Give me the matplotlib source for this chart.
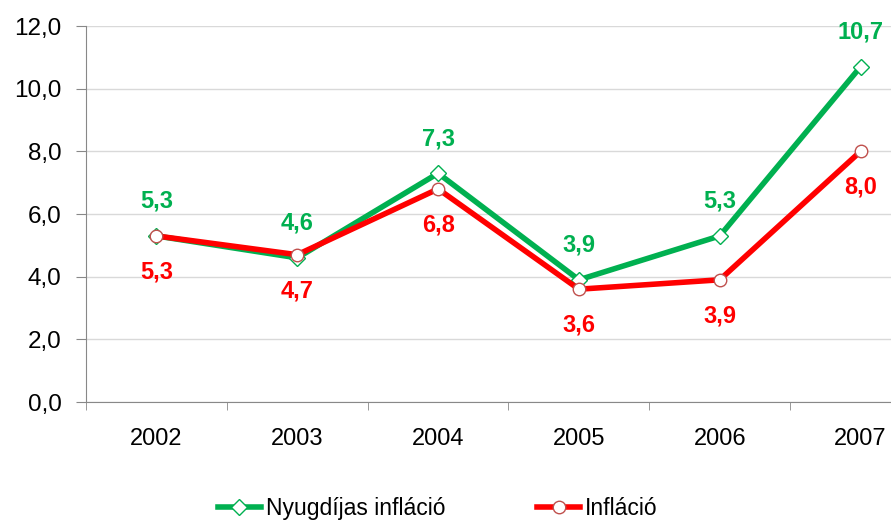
import matplotlib.pyplot as plt
import numpy as np

years = ["2002", "2003", "2004", "2005", "2006", "2007"]
nyugdijas = [5.3, 4.6, 7.3, 3.9, 5.3, 10.7]
inflacio = [5.3, 4.7, 6.8, 3.6, 3.9, 8.0]

green = "#00B050"
red = "#FF0000"

plt.rcParams["font.family"] = ["Liberation Sans", "DejaVu Sans"]

fig = plt.figure(figsize=(8.91, 5.22), dpi=100)
ax = fig.add_axes([86 / 891, 1 - 402 / 522, 845 / 891, 376 / 522])

x = np.arange(len(years))
ax.plot(x, nyugdijas, color=green, lw=4, marker="D", ms=8, mfc="white",
        mec=green, mew=1, label="Nyugdíjas infláció", zorder=3)
ax.plot(x, inflacio, color=red, lw=4, marker="o", ms=9, mfc="white",
        mec="#C0504D", mew=1, label="Infláció", zorder=4)

def fmt(v):
    return f"{v:.1f}".replace(".", ",")

for xi, v in zip(x, nyugdijas):
    ax.annotate(fmt(v), (xi, v), xytext=(0, 25), textcoords="offset points",
                ha="center", va="center", color=green, fontsize=17, fontweight="bold")
for xi, v in zip(x, inflacio):
    ax.annotate(fmt(v), (xi, v), xytext=(0, -26), textcoords="offset points",
                ha="center", va="center", color=red, fontsize=17, fontweight="bold")

ax.set_xlim(-0.5, len(years) - 0.5)
ax.set_ylim(0, 12)
ax.set_yticks(np.arange(0, 12.1, 2))
ax.set_yticklabels([fmt(v) for v in np.arange(0, 12.1, 2)], fontsize=17.5)
ax.set_xticks(x)
ax.set_xticklabels(years, fontsize=17)
ax.set_xticks(np.arange(-0.5, len(years)), minor=True)
ax.tick_params(axis="x", which="major", length=0, pad=19)
ax.tick_params(axis="x", which="minor", length=6, color="#888888", direction="out")
ax.tick_params(axis="y", length=7.5, color="#888888", pad=10)
ax.grid(axis="y", color="#D9D9D9", lw=1)
ax.set_axisbelow(True)
for s in ["top", "right"]:
    ax.spines[s].set_visible(False)
for s in ["left", "bottom"]:
    ax.spines[s].set_color("#888888")

fig.legend(loc="lower left", bbox_to_anchor=(197 / 891, -0.035), ncol=2,
           frameon=False, fontsize=16.5, columnspacing=4.0, handlelength=1.9,
           handletextpad=0.2)

fig.savefig("out.png", dpi=100)
